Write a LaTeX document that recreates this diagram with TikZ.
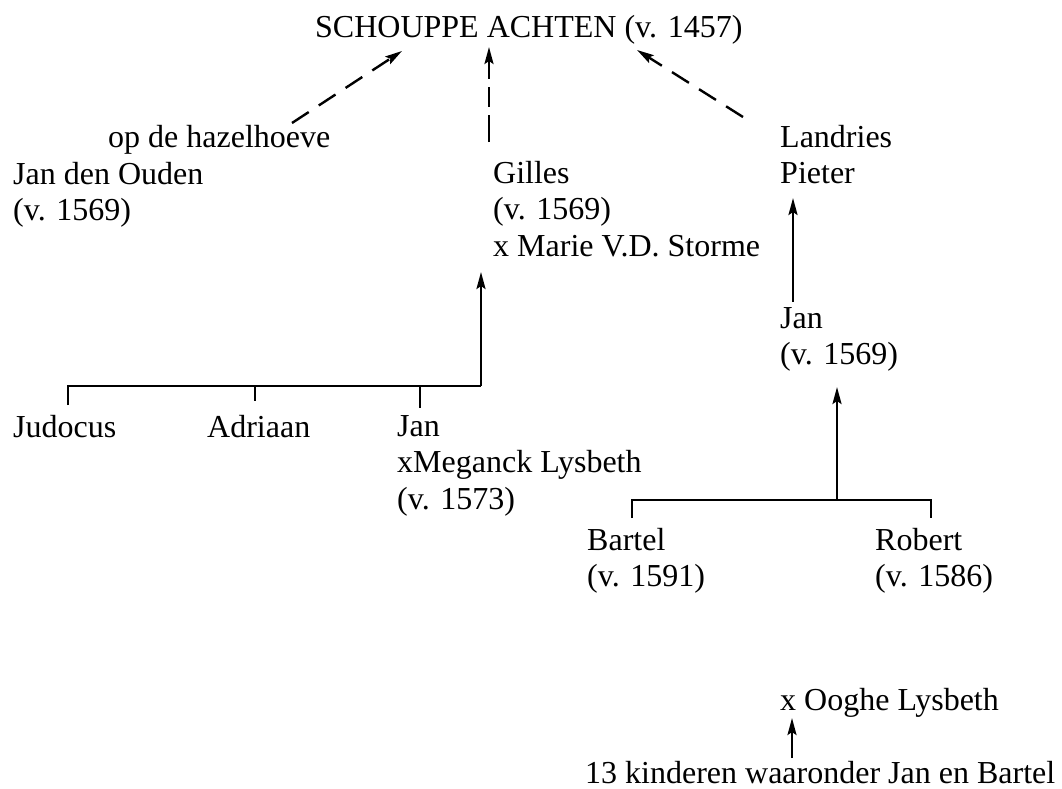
\documentclass[tikz,border=0pt]{standalone}
\usepackage{fontspec}
\setmainfont{Liberation Serif}
\usetikzlibrary{arrows.meta}
\begin{document}
\begin{tikzpicture}[x=1pt,y=-1pt,
  lbl/.style={anchor=base west, inner sep=0pt, align=left, font=\fontsize{32}{36.5}\selectfont},
  link/.style={line width=2.4pt},
  arr/.style={link, -{Stealth[length=17pt,width=9pt,inset=3pt]}},
  darr/.style={arr, dash pattern=on 20pt off 12pt}]
\useasboundingbox (0,0) rectangle (1062,789);
% texts (anchor = baseline of the last line)
\node[lbl] (top) at (315,38) {SCHOUPPE ACHTEN (v. 1457)};
\node[lbl] (hazel) at (108,147) {op de hazelhoeve};
\node[lbl] (ouden) at (13,220.5) {Jan den Ouden\\(v. 1569)};
\node[lbl] (gilles) at (493,256) {Gilles\\(v. 1569)\\x Marie V.D. Storme};
\node[lbl] (landries) at (780,183.5) {Landries\\Pieter};
\node[lbl] (jan1) at (780,364.5) {Jan\\(v. 1569)};
\node[lbl] (judocus) at (13,437) {Judocus};
\node[lbl] (adriaan) at (207,437) {Adriaan};
\node[lbl] (jan2) at (397,509) {Jan\\xMeganck Lysbeth\\(v. 1573)};
\node[lbl] (bartel) at (587,586.5) {Bartel\\(v. 1591)};
\node[lbl] (robert) at (875,586.5) {Robert\\(v. 1586)};
\node[lbl] (ooghe) at (780,710) {x Ooghe Lysbeth};
\node[lbl] (kind) at (585,783) {13 kinderen waaronder Jan en Bartel};
% connector end points
\coordinate (t1) at (402,51);
\coordinate (t2) at (489,47);
\coordinate (t3) at (637,50);
\coordinate (h1) at (292,123);
\coordinate (g1) at (489,142);
\coordinate (l1) at (743,117);
% dashed arrows to the top
\draw[darr] (h1) -- (t1);
\draw[darr, dash pattern=on 27pt off 8pt on 20pt off 8pt on 60pt off 0pt] (g1) -- (t2);
\draw[darr] (l1) -- (t3);
% left family
\coordinate (bl) at (68,386);
\coordinate (br) at (481,386);
\draw[link] (68,405) -- (bl) -- (br);
\draw[link] (255,386) -- (255,401);
\draw[link] (420,386) -- (420,408);
\draw[arr] (br) -- (481,272);
% right family
\draw[arr] (793,302) -- (793,198);
\draw[link] (632,518) -- (632,500) -- (931,500) -- (931,518);
\draw[arr] (837,500) -- (837,387);
% bottom
\draw[arr] (792,758) -- (792,718);
\end{tikzpicture}
\end{document}
